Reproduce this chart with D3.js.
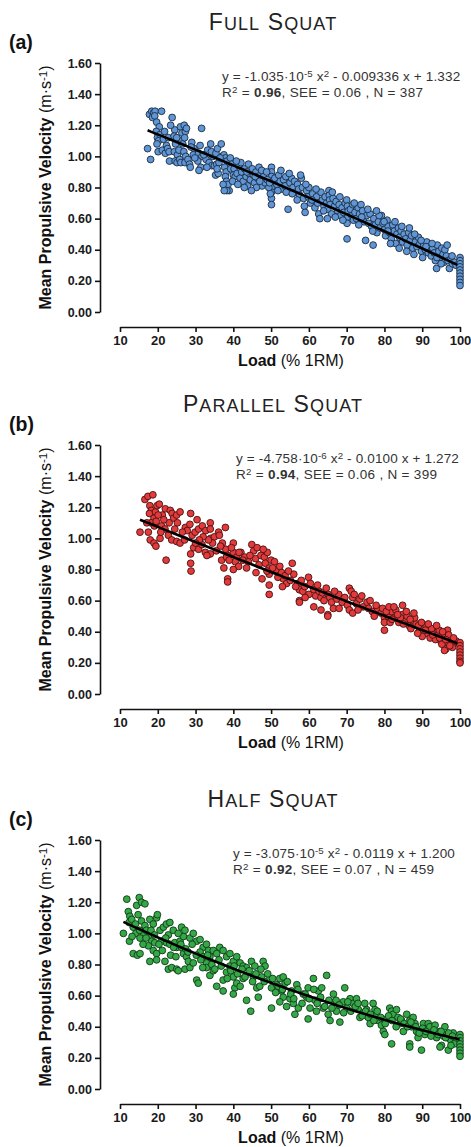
<!DOCTYPE html>
<html>
<head>
<meta charset="utf-8">
<script src="https://cdn.jsdelivr.net/npm/d3@7"></script>
<style>
body { margin: 0; background: #fff; }
svg text { font-family: "Liberation Sans", Arial, sans-serif; }
.axis .tick text { font-weight: bold; fill: #1a1a1a; }
.axis .domain, .axis .tick line { stroke: #111; stroke-width: 1.6; }
</style>
</head>
<body>
<div id="chart"></div>
<script>
// panel labels and titles
var panelLabels = ["(a)", "(b)", "(c)"];
var panelTitles = ["Full Squat", "Parallel Squat", "Half Squat"];

// axis ticks
var xTicks = [10, 20, 30, 40, 50, 60, 70, 80, 90, 100];
var yTicks = [0, 0.2, 0.4, 0.6, 0.8, 1.0, 1.2, 1.4, 1.6];

// equation text pieces as printed
var eqQuad = ["-1.035", "-4.758", "-3.075"];
var eqExp = ["-5", "-6", "-5"];
var eqLin = ["0.009336", "0.0100", "0.0119"];
var eqConst = ["1.332", "1.272", "1.200"];
var r2 = ["0.96", "0.94", "0.92"];
var see = ["0.06", "0.06", "0.07"];
var nObs = ["387", "399", "459"];

// curve coefficients [x^2, x, const] as drawn in the figure
var fullFit = [-1.035e-5, -0.009336, 1.332];
var parallelFit = [4.758e-6, -0.0100, 1.272];
var halfFit = [3.075e-5, -0.0119, 1.200];

// [load %1RM, mean propulsive velocity]
var fullSquat = [
[17.3,1.05],[18.1,0.98],[17.8,1.27],[18.4,1.29],[18.9,1.28],[19.3,1.29],[18.6,1.25],[19.2,1.26],[19.7,1.22],[21.0,1.29],
[20.4,1.19],[19.6,1.16],[19.9,1.12],[20.6,1.14],[20.2,1.10],[19.8,1.08],[20.1,1.03],[21.2,1.04],[22.0,1.02],[21.5,1.11],
[22.3,1.07],[22.8,1.12],[22.6,1.05],[23.0,1.03],[23.8,1.25],[24.5,1.17],[24.3,1.13],[24.7,1.08],[24.4,1.03],[25.2,1.01],
[25.6,1.04],[23.1,0.97],[24.6,0.97],[25.1,0.96],[25.8,0.98],[26.1,0.96],[26.0,1.19],[26.4,1.15],[26.2,1.10],[26.6,1.08],
[27.0,1.20],[27.3,1.16],[27.1,1.12],[27.6,1.18],[26.9,1.03],[27.4,1.00],[27.2,0.96],[28.0,0.98],[28.4,0.95],[28.6,0.93],
[31.6,1.18],[29.0,1.09],[29.6,1.05],[29.4,1.01],[30.8,1.02],[31.2,1.07],[31.7,1.00],[30.6,0.97],[31.4,0.93],[30.9,0.91],
[32.8,0.98],[33.2,1.04],[33.6,0.96],[34.0,1.08],[34.6,1.00],[34.2,1.03],[35.4,1.02],[35.8,1.05],[34.3,0.94],[35.0,0.94],
[35.6,0.95],[36.2,0.96],[35.3,0.88],[36.0,0.89],[35.7,0.92],[36.8,1.08],[37.0,1.00],[37.5,1.01],[37.9,0.99],[38.3,0.97],
[37.7,0.93],[38.1,0.90],[37.9,0.87],[38.2,0.84],[38.6,0.82],[38.9,0.78],[38.3,0.78],[37.6,0.78],[37.3,0.82],[39.2,0.99],
[39.6,0.95],[39.3,0.92],[40.2,0.92],[40.0,0.88],[40.5,0.87],[41.0,0.89],[41.4,0.94],[41.8,0.86],[42.2,0.90],[42.6,0.84],
[43.0,0.92],[43.4,0.87],[43.8,0.81],[44.2,0.89],[44.5,0.85],[44.0,0.95],[42.9,0.80],[45.0,0.92],[45.3,0.88],[45.6,0.83],
[46.0,0.90],[46.4,0.86],[46.8,0.93],[47.2,0.88],[47.6,0.81],[46.1,0.80],[48.0,0.87],[48.4,0.83],[47.5,0.91],
[50.1,0.93],[50.1,0.90],[50.1,0.87],[50.1,0.84],[50.1,0.80],[50.1,0.77],[50.1,0.73],[50.1,0.69],
[49.0,0.85],[49.4,0.80],[51.0,0.86],[51.5,0.82],[52.0,0.88],[52.4,0.84],[52.8,0.79],[53.3,0.85],[53.7,0.81],[54.0,0.77],
[54.5,0.66],[55.0,0.83],[55.4,0.86],[55.8,0.80],[56.2,0.84],[56.6,0.77],[57.0,0.82],[57.3,0.79],[57.6,0.75],[58.0,0.86],
[58.3,0.80],[58.6,0.73],[58.8,0.68],[59.0,0.64],[59.4,0.78],[59.8,0.74],[60.0,0.80],[60.4,0.70],[61.0,0.76],[61.3,0.72],
[61.6,0.67],[62.0,0.74],[62.3,0.70],[62.6,0.63],[62.9,0.60],[63.2,0.77],[63.6,0.72],[64.0,0.68],[64.3,0.74],[64.7,0.70],
[65.0,0.66],[65.3,0.78],[65.4,0.75],[65.5,0.72],[65.6,0.69],[66.0,0.63],[66.4,0.73],[66.8,0.68],[67.2,0.71],[67.6,0.65],
[68.0,0.69],[68.4,0.62],[68.8,0.67],[69.2,0.64],[69.6,0.70],[70.0,0.72],[70.2,0.68],[70.4,0.65],[70.3,0.61],[70.1,0.57],
[70.1,0.47],[71.0,0.66],[71.4,0.62],[71.8,0.59],[72.2,0.64],[72.6,0.60],[73.0,0.67],[73.4,0.63],[73.8,0.69],[74.2,0.65],
[74.6,0.58],[75.0,0.46],[75.3,0.62],[75.8,0.57],[76.2,0.63],[76.6,0.55],[77.0,0.43],[77.2,0.60],[77.6,0.56],[78.0,0.51],
[78.4,0.58],[78.8,0.54],[79.2,0.62],[79.6,0.57],[80.0,0.53],[80.3,0.49],[80.7,0.59],[81.0,0.55],[81.4,0.51],[81.8,0.47],
[82.2,0.56],[82.6,0.52],[83.0,0.44],[83.3,0.50],[83.7,0.54],[84.0,0.48],[84.4,0.52],[84.8,0.45],[85.2,0.50],[85.6,0.47],
[86.0,0.43],[86.4,0.51],[86.8,0.46],[87.2,0.49],[87.5,0.41],[87.8,0.37],[88.2,0.45],[88.6,0.42],[89.0,0.48],[89.4,0.44],
[89.8,0.39],[90.1,0.35],[90.4,0.43],[90.8,0.40],[91.2,0.45],[91.6,0.38],[92.0,0.42],[92.4,0.36],[92.8,0.41],[93.2,0.38],
[93.5,0.33],[93.8,0.28],[94.0,0.43],[94.4,0.39],[94.8,0.35],[95.2,0.41],[95.5,0.37],[95.8,0.32],[96.0,0.40],[96.4,0.36],
[96.8,0.33],[97.2,0.28],[97.6,0.34],[98.0,0.31],
[21.8,1.16],[23.4,1.20],[25.0,1.12],[28.8,1.06],[29.8,0.99],[32.2,1.01],[33.0,0.93],[36.5,0.99],[39.8,0.84],[41.2,0.82],
[43.6,0.90],[45.8,0.87],[48.8,0.90],[49.6,0.83],[51.8,0.78],[53.9,0.87],[56.9,0.72],[60.8,0.72],[63.9,0.65],[67.0,0.61],
[69.0,0.59],[71.6,0.69],[74.0,0.61],[76.9,0.52],[78.6,0.62],[80.9,0.52],[82.8,0.58],[84.6,0.55],[86.6,0.54],[88.0,0.50],
[89.7,0.46],[91.0,0.42],[92.6,0.44],[93.9,0.35],[95.0,0.31],[96.6,0.43],[97.9,0.36],[98.6,0.32],[99.0,0.30],[85.9,0.39],
[83.9,0.41],[81.6,0.44],[79.9,0.58],[77.9,0.65],[75.6,0.66],[73.2,0.56],[72.0,0.70],[68.2,0.74],[66.2,0.77],[64.9,0.60],
[61.9,0.79],[59.2,0.82],[57.8,0.88],[55.6,0.76],[54.8,0.89],[52.6,0.91],[49.8,0.76],[47.0,0.84],[44.8,0.78],[42.0,0.96],
[40.8,0.97],
[100,0.35],[100,0.33],[100,0.31],[100,0.29],[100,0.27],[100,0.25],[100,0.23],[100,0.21],[100,0.19],[100,0.17]
];

var parallelSquat = [
[15.3,1.04],[16.6,1.25],[17.4,1.27],[18.7,1.28],[17.9,1.21],[18.3,1.18],[17.8,1.16],[19.0,1.13],[19.4,1.17],[19.8,1.21],
[20.4,1.22],[18.2,1.10],[19.1,1.08],[19.6,1.11],[18.0,0.99],[19.0,0.97],[19.5,0.95],[20.6,1.00],[21.2,1.15],[22.0,1.19],
[23.3,1.18],[23.8,1.16],[24.2,1.13],[25.0,1.15],[25.9,1.17],[25.2,1.10],[21.0,1.08],[21.9,1.06],[22.8,1.02],[23.7,0.99],
[25.0,0.98],[25.9,0.97],[27.1,0.99],[22.2,0.86],[27.3,1.07],[27.8,1.05],[28.5,1.09],[28.7,1.16],[28.7,0.90],[28.7,0.84],
[28.8,0.79],[29.1,1.02],[29.9,1.04],[30.8,1.06],[30.4,1.12],[31.8,1.08],[32.7,1.05],[33.9,1.10],[33.9,1.06],[29.5,0.94],
[30.8,0.93],[31.7,0.96],[32.6,0.91],[33.9,0.90],[33.0,0.89],[34.0,1.00],[35.0,1.01],[36.1,1.04],[36.3,1.02],[37.1,0.97],
[38.0,0.93],[38.4,0.89],[36.9,0.86],[37.5,0.81],[38.2,0.88],[38.5,0.74],[38.5,0.72],[37.9,1.07],[40.0,0.97],[40.0,0.91],
[40.9,0.88],[40.5,0.85],[41.4,0.82],[40.0,0.80],[42.0,0.91],[43.0,0.88],[44.0,0.85],[44.9,0.96],[45.4,0.92],[46.3,0.94],
[45.9,0.87],[46.8,0.83],[47.3,0.89],[48.2,0.88],[49.0,0.91],[48.5,0.84],[49.5,0.81],[50.0,0.86],[50.9,0.85],[51.4,0.80],
[49.5,0.77],[47.6,0.74],[49.5,0.70],[49.5,0.64],[52.3,0.82],[52.8,0.78],[53.2,0.74],[53.7,0.76],[54.1,0.71],[55.1,0.73],
[55.6,0.84],[56.0,0.77],[57.0,0.71],[57.5,0.67],[58.4,0.66],[58.9,0.69],[59.9,0.75],[60.4,0.71],[61.3,0.67],[61.8,0.63],
[62.7,0.66],[62.3,0.70],[63.2,0.62],[63.6,0.65],[64.6,0.68],[65.1,0.64],[57.5,0.60],[57.5,0.59],[61.3,0.56],[63.2,0.54],
[65.0,0.51],[65.0,0.50],
[65.5,0.62],[66.0,0.59],[66.5,0.55],[67.4,0.61],[67.9,0.64],[68.8,0.59],[70.2,0.57],[70.7,0.68],[71.2,0.66],[71.6,0.62],
[70.7,0.54],[71.6,0.52],[72.6,0.58],[73.5,0.61],[74.4,0.56],[75.4,0.59],[75.8,0.55],[76.8,0.53],[77.3,0.50],[78.2,0.55],
[79.1,0.52],[80.0,0.49],[80.0,0.46],[80.0,0.41],[81.0,0.50],[81.9,0.53],[82.8,0.49],[83.8,0.46],[84.7,0.51],[85.6,0.48],
[86.5,0.44],[87.5,0.47],[88.4,0.45],[89.3,0.41],[90.3,0.43],[91.2,0.39],[92.1,0.36],[93.0,0.40],[94.0,0.38],[94.9,0.34],
[95.8,0.37],[96.7,0.33],[97.7,0.35],[98.6,0.33],[96.3,0.29],[95.9,0.28],[96.7,0.41],
[72.0,0.64],[73.0,0.54],[74.0,0.63],[76.2,0.60],[77.8,0.57],[79.5,0.55],[81.5,0.46],[83.0,0.54],[84.2,0.49],[85.0,0.45],
[86.0,0.50],[87.0,0.42],[88.0,0.49],[89.0,0.44],[90.0,0.37],[91.0,0.44],[92.5,0.42],[93.5,0.35],[94.5,0.41],[95.2,0.32],
[97.0,0.38],[98.0,0.30],[99.0,0.34],[68.0,0.55],[69.5,0.62],[66.8,0.66],[64.0,0.60],[60.0,0.64],[59.0,0.62],[58.0,0.73],
[56.5,0.69],[54.6,0.79],[53.0,0.69],[51.8,0.75],[50.4,0.81],[48.9,0.79],[47.9,0.93],[46.0,0.78],[44.4,0.89],[43.5,0.81],
[42.5,0.86],[41.5,0.91],[39.5,0.94],[38.9,0.86],[36.6,0.95],[35.5,0.92],[34.5,0.97],[33.4,0.99],[32.0,1.01],[31.0,0.99],
[30.0,0.97],[26.5,1.04],[24.5,1.06],[23.0,1.10],[21.6,1.12],[20.8,1.04],[20.1,1.15],[17.1,1.10],[17.5,1.04],
[80.5,0.53],[81.2,0.56],[82.0,0.48],[82.5,0.56],[83.5,0.51],[84.8,0.57],[85.8,0.53],[86.8,0.48],[87.8,0.52],[88.8,0.39],
[89.8,0.46],[90.8,0.41],[91.6,0.45],[92.8,0.38],[93.8,0.44],[94.6,0.36],[95.4,0.40],[96.2,0.35],[97.3,0.31],[98.3,0.36],
[100,0.33],[100,0.31],[100,0.29],[100,0.27],[100,0.25],[100,0.23],[100,0.21],[100,0.20]
];

var halfSquat = [
[11.8,1.22],[10.9,1.00],[12.2,1.14],[12.6,1.11],[12.4,1.07],[13.1,1.09],[13.5,1.04],[14.2,1.00],[12.5,0.95],[13.5,0.87],
[14.6,0.86],[15.3,0.87],[14.4,1.18],[15.1,1.23],[15.7,1.20],[16.6,1.19],[14.8,1.12],[15.7,1.08],[16.6,1.05],[16.2,1.00],
[15.3,0.97],[17.0,1.02],[17.9,0.98],[18.4,0.95],[19.2,0.94],[17.5,0.92],[18.8,0.89],[19.7,0.87],[17.9,0.82],[17.9,1.09],
[18.8,1.06],[19.7,1.10],[19.9,1.12],[20.6,1.02],[21.5,1.04],[22.3,1.06],[22.8,0.99],[19.7,0.83],[21.9,0.82],[22.8,0.77],
[23.7,0.78],[25.0,0.77],[25.4,0.76],[21.0,0.95],[22.3,0.94],[23.2,0.93],[24.5,0.94],[25.0,0.91],[25.9,0.95],[26.3,0.91],
[26.8,0.98],[23.2,1.07],[24.1,1.02],[25.4,1.00],[26.3,1.04],[27.2,1.02],[26.8,0.87],[27.6,0.85],[28.1,0.82],[27.2,0.77],
[28.5,0.78],[29.4,0.81],[28.5,0.97],[29.4,1.00],[30.3,0.95],[31.2,0.96],[32.0,0.91],[32.9,0.93],[33.4,0.89],[30.3,0.70],
[30.7,0.68],[31.2,0.88],[32.0,0.85],[32.9,0.81],[33.8,0.85],[34.7,0.89],[35.6,0.87],[36.4,0.91],[37.3,0.89],[38.2,0.85],
[39.1,0.87],[40.0,0.82],[40.9,0.85],[41.8,0.81],[42.6,0.79],[43.5,0.78],[32.9,0.78],[33.8,0.73],[34.7,0.76],[35.6,0.66],
[37.3,0.70],[38.2,0.75],[39.1,0.79],[40.0,0.72],[40.4,0.65],[40.9,0.68],[41.8,0.66],[42.6,0.71],[37.3,0.63],[40.0,0.61],
[43.5,0.57],
[44.8,0.82],[45.7,0.79],[45.3,0.72],[46.2,0.65],[46.6,0.59],[47.9,0.82],[48.4,0.79],[47.5,0.72],[47.0,0.66],[44.6,0.50],
[49.7,0.71],[50.1,0.65],[50.1,0.52],[51.5,0.67],[52.3,0.71],[53.2,0.72],[53.7,0.68],[52.8,0.63],[53.2,0.59],[52.3,0.56],
[54.1,0.53],[55.0,0.58],[55.4,0.63],[56.8,0.67],[55.9,0.55],[56.3,0.48],[57.2,0.52],[58.5,0.61],[59.8,0.65],[61.2,0.71],
[59.4,0.59],[60.3,0.52],[59.8,0.45],[61.6,0.57],[62.5,0.63],[63.4,0.65],[62.0,0.50],[62.9,0.58],[63.8,0.52],[64.7,0.73],
[65.1,0.48],[65.6,0.44],[66.5,0.61],[66.9,0.56],[67.3,0.50],[68.2,0.43],[69.5,0.65],[69.1,0.56],[70.0,0.52],[70.9,0.58],
[71.7,0.55],[72.6,0.58],[73.1,0.51],[73.5,0.46],[74.4,0.49],[74.8,0.55],[75.3,0.51],[75.7,0.46],[76.2,0.42],[77.0,0.55],
[77.5,0.51],[77.9,0.48],[78.4,0.44],[79.2,0.41],[79.7,0.37],[80.1,0.35],[80.6,0.45],[81.4,0.52],[81.9,0.50],[82.3,0.48],
[83.2,0.51],[83.6,0.46],[84.1,0.42],[84.5,0.44],[85.0,0.37],[85.9,0.48],[86.7,0.44],[87.2,0.40],[87.6,0.46],[88.1,0.42],
[88.5,0.37],[88.9,0.33],[90.3,0.42],[90.7,0.35],[91.6,0.42],[92.0,0.40],[92.9,0.36],[93.4,0.41],[93.8,0.33],[94.7,0.37],
[95.6,0.34],[96.0,0.40],[96.4,0.35],[97.3,0.32],[98.2,0.36],[95.1,0.28],[94.7,0.27],[81.9,0.29],[86.7,0.29],[86.7,0.27],
[89.8,0.25],[96.9,0.25],
[13.2,0.98],[14.1,1.06],[15.2,1.02],[16.1,0.93],[16.9,0.97],[18.2,1.02],[19.1,0.99],[20.3,0.93],[21.2,0.89],[22.1,0.97],
[23.4,0.86],[24.2,0.91],[24.8,0.85],[26.1,0.93],[27.4,0.90],[28.0,0.88],[29.1,0.93],[30.2,0.86],[31.4,0.83],[31.9,0.78],
[33.2,0.86],[34.3,0.80],[35.1,0.77],[36.2,0.83],[36.8,0.79],[38.4,0.71],[39.3,0.76],[40.2,0.79],[41.1,0.74],[42.3,0.77],
[43.1,0.72],[44.2,0.76],[45.1,0.69],[46.0,0.74],[47.3,0.77],[48.2,0.69],[49.1,0.74],[50.4,0.71],[51.2,0.62],[51.9,0.66],
[53.0,0.64],[54.3,0.69],[55.2,0.61],[56.0,0.58],[57.1,0.64],[58.2,0.55],[59.0,0.61],[60.1,0.58],[61.3,0.64],[62.2,0.55],
[63.1,0.59],[64.2,0.53],[65.3,0.57],[66.1,0.52],[67.2,0.57],[68.0,0.54],[69.2,0.49],[70.3,0.56],[71.1,0.50],[72.3,0.53],
[73.0,0.55],[74.1,0.47],[75.0,0.50],[76.3,0.48],[77.2,0.44],[78.1,0.50],[79.0,0.46],[80.2,0.42],[81.1,0.47],[82.0,0.44],
[83.1,0.40],[84.3,0.45],[85.2,0.42],[86.1,0.40],[87.0,0.43],[88.3,0.40],[89.2,0.36],[90.1,0.39],[91.0,0.37],[92.3,0.34],
[93.1,0.38],[94.2,0.35],[95.0,0.37],[96.2,0.33],[97.0,0.36],[98.0,0.34],[99.1,0.31],[98.5,0.29],[97.6,0.28],
[100,0.35],[100,0.33],[100,0.31],[100,0.29],[100,0.27],[100,0.25],[100,0.23],[100,0.21]
];

var series = [fullSquat, parallelSquat, halfSquat];
var fits = [fullFit, parallelFit, halfFit];
var fills = ["#6096d6", "#e33b3c", "#35a847"];
var edges = ["#1c2c40", "#4a1212", "#123a1a"];
var offsets = [0, 382, 777];
var eqX = [222, 236, 233];

var width = 471, height = 1147;
var svg = d3.select("#chart").append("svg")
    .attr("width", width)
    .attr("height", height);

var x = d3.scaleLinear().domain([10, 100]).range([120, 460]);
var y = d3.scaleLinear().domain([0, 1.6]).range([312, 63]);

// append tspans; "b" bold, "sup" superscript
function richText(sel, parts) {
	var shift = 0;
	parts.forEach(function(p) {
		var t = sel.append("tspan").text(p[0]);
		if (p[1] == "b") t.attr("font-weight", "bold");
		if (p[1] == "sup") {
			t.attr("font-size", "0.72em").attr("dy", -4.5);
			shift = 4.5;
		} else if (shift) {
			t.attr("dy", shift);
			shift = 0;
		}
	});
}

series.forEach(function(data, k) {
	var g = svg.append("g").attr("transform", "translate(0," + offsets[k] + ")");

	// title in small caps
	var title = g.append("text")
		.attr("x", 273)
		.attr("y", 30)
		.attr("text-anchor", "middle")
		.attr("letter-spacing", 1.1)
		.attr("fill", "#222");
	panelTitles[k].split(" ").forEach(function(w, i) {
		title.append("tspan").attr("font-size", 23).text((i > 0 ? " " : "") + w[0].toUpperCase());
		title.append("tspan").attr("font-size", 18).text(w.slice(1).toUpperCase());
	});

	g.append("text")
		.attr("x", 9)
		.attr("y", 49)
		.attr("font-size", 19.5)
		.attr("font-weight", "bold")
		.attr("fill", "#111")
		.text(panelLabels[k]);

	// axes
	g.append("g")
		.attr("class", "axis")
		.attr("transform", "translate(100,0)")
		.call(d3.axisLeft(y).tickValues(yTicks).tickFormat(d3.format(".2f")).tickSize(5).tickSizeOuter(0).tickPadding(3))
		.selectAll(".tick text").attr("font-size", 12.5);

	g.append("g")
		.attr("class", "axis")
		.attr("transform", "translate(0,327)")
		.call(d3.axisBottom(x).tickValues(xTicks).tickSize(5).tickSizeOuter(0).tickPadding(4))
		.selectAll(".tick text").attr("font-size", 13);

	// axis titles
	var yl = g.append("text")
		.attr("transform", "translate(51," + ((y(0) + y(1.6)) / 2) + ") rotate(-90)")
		.attr("text-anchor", "middle")
		.attr("font-size", 16)
		.attr("fill", "#111");
	richText(yl, [["Mean Propulsive Velocity", "b"], [" (m\u00b7s", ""], ["-1", "sup"], [")", ""]]);

	var xl = g.append("text")
		.attr("x", 291)
		.attr("y", 366)
		.attr("text-anchor", "middle")
		.attr("font-size", 16)
		.attr("fill", "#111");
	richText(xl, [["Load", "b"], [" (% 1RM)", ""]]);

	// equation block
	var e1 = g.append("text").attr("x", eqX[k]).attr("y", 81).attr("font-size", 13.5)
		.attr("letter-spacing", 0.15).attr("fill", "#333");
	richText(e1, [["y = " + eqQuad[k] + "\u00b710", ""], [eqExp[k], "sup"], [" x", ""], ["2", "sup"],
		[" - " + eqLin[k] + " x + " + eqConst[k], ""]]);
	var e2 = g.append("text").attr("x", eqX[k]).attr("y", 97).attr("font-size", 13.5)
		.attr("letter-spacing", 0.3).attr("fill", "#333");
	richText(e2, [["R", ""], ["2", "sup"], [" = ", ""], [r2[k], "b"], [", SEE = " + see[k] + " , N = " + nObs[k], ""]]);

	// points
	g.append("g").selectAll("circle")
		.data(data)
		.enter().append("circle")
		.attr("cx", function(d) { return x(d[0]); })
		.attr("cy", function(d) { return y(d[1]); })
		.attr("r", 3.4)
		.attr("fill", fills[k])
		.attr("stroke", edges[k])
		.attr("stroke-width", 0.9);

	// fitted curve
	var c = fits[k];
	var x0 = d3.min(data, function(d) { return d[0]; });
	var curveX = d3.range(x0, 100.01, 1);
	g.append("path")
		.datum(curveX)
		.attr("fill", "none")
		.attr("stroke", "#000")
		.attr("stroke-width", 2.6)
		.attr("d", d3.line()
			.x(function(v) { return x(v); })
			.y(function(v) { return y(c[0] * v * v + c[1] * v + c[2]); }));
});
</script>
</body>
</html>
